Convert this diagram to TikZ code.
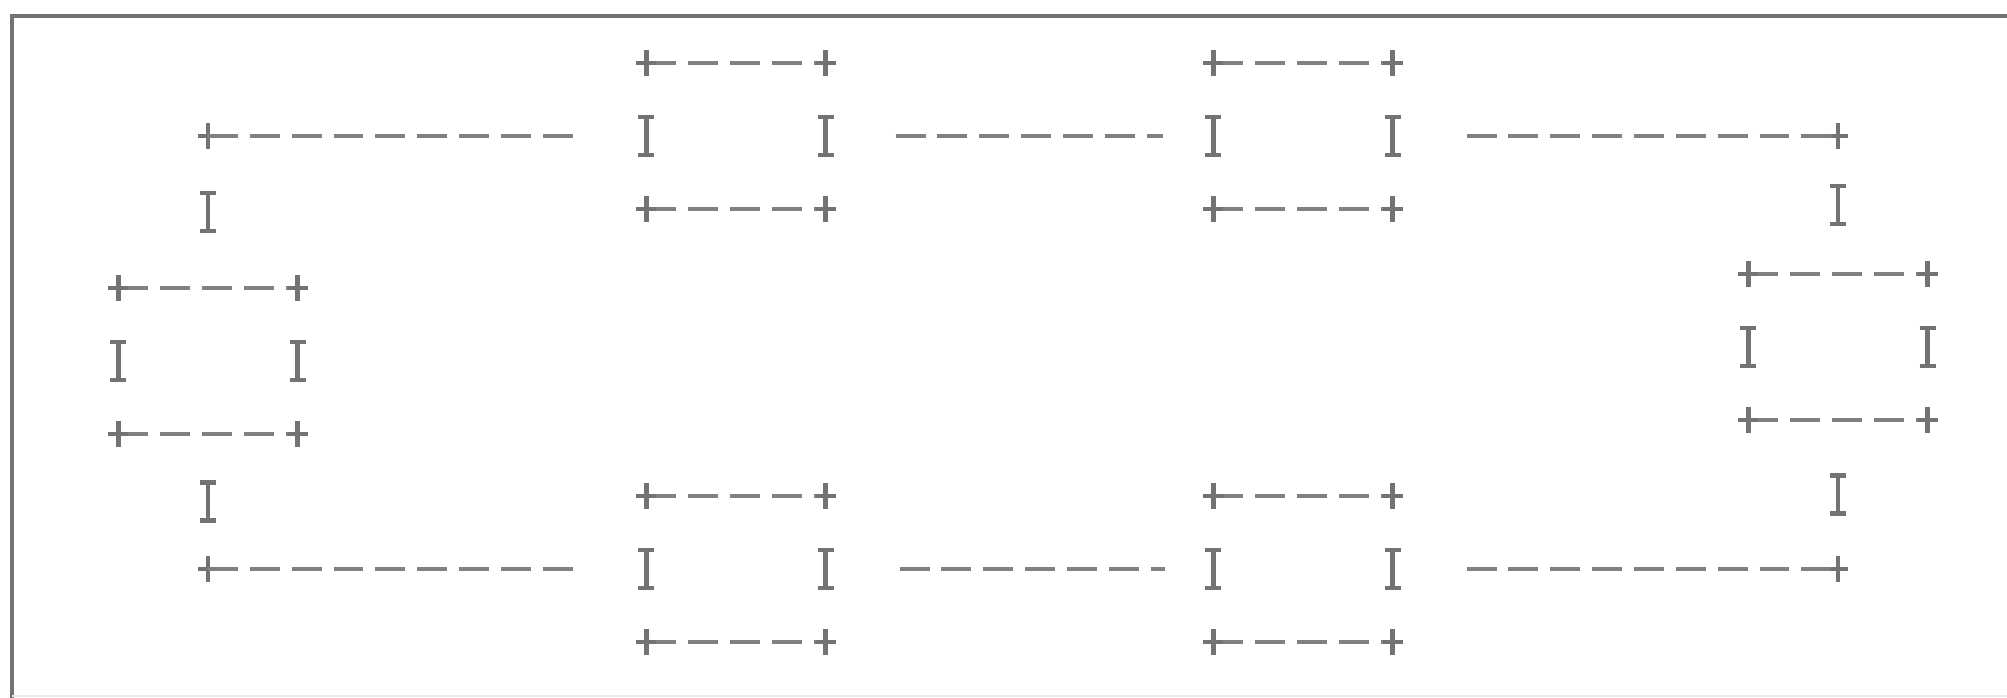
\documentclass[tikz,border=0pt]{standalone}
\usetikzlibrary{positioning,calc}

\begin{document}
\begin{tikzpicture}[x=0.01cm, y=-0.01cm,
    asciibox/.style={rectangle, draw=none, minimum width=1.79cm, minimum height=1.46cm, inner sep=0pt, outer sep=0pt},
    dashrule/.style={draw=black!50, line width=0.9pt, dash pattern=on 8.5pt off 3.4pt},
    markline/.style={draw=black!55, line width=1.3pt},
    plusmark/.pic={\draw[markline] (0,-13) -- (0,13) (-10,0) -- (10,0);},
    ibeam/.pic={\draw[markline] (0,-19) -- (0,19) (-8,-19) -- (8,-19) (-8,19) -- (8,19);}
]
\useasboundingbox (0,0) rectangle (2007,698);

% frame of the printout
\draw[draw=black!55, line width=1.2pt] (12,698) -- (12,16) -- (2007,16);
\draw[draw=black!8, line width=0.8pt] (12,696) -- (2007,696);

% the six boxes of the ring
\node[asciibox] (top1) at (736,136) {};
\node[asciibox] (top2) at (1303,136) {};
\node[asciibox] (rgt) at (1838,347) {};
\node[asciibox] (bot2) at (1303,569) {};
\node[asciibox] (bot1) at (736,569) {};
\node[asciibox] (lft) at (208,361) {};

% borders of each box
\foreach \b in {top1,top2,rgt,bot2,bot1,lft} {
  \draw[dashrule] (\b.north west) -- (\b.north east);
  \draw[dashrule] (\b.south west) -- (\b.south east);
  \foreach \c in {north west,north east,south west,south east}
    \pic at (\b.\c) {plusmark};
  \pic at (\b.west) {ibeam};
  \pic at (\b.east) {ibeam};
}

% corners of the ring
\coordinate (nw) at (lft.north |- top1.west);
\coordinate (ne) at (rgt.north |- top2.east);
\coordinate (se) at (rgt.south |- bot2.east);
\coordinate (sw) at (lft.south |- bot1.west);
\foreach \k in {nw,ne,se,sw}
  \pic at (\k) {plusmark};

% horizontal links
\draw[dashrule, shorten >=0.65cm] (nw) -- (top1.west);
\draw[dashrule, shorten <=0.7cm, shorten >=0.5cm] (top1.east) -- (top2.west);
\draw[dashrule, shorten <=0.74cm] (top2.east) -- (ne);
\draw[dashrule, shorten <=0.74cm] (bot2.east) -- (se);
\draw[dashrule, shorten <=0.74cm, shorten >=0.48cm] (bot1.east) -- (bot2.west);
\draw[dashrule, shorten >=0.65cm] (sw) -- (bot1.west);

% vertical links
\pic at ($(lft.north)!0.5!(nw)$) {ibeam};
\pic at ($(ne)!0.5!(rgt.north)$) {ibeam};
\pic at ($(rgt.south)!0.5!(se)$) {ibeam};
\pic at ($(lft.south)!0.5!(sw)$) {ibeam};

\end{tikzpicture}
\end{document}
